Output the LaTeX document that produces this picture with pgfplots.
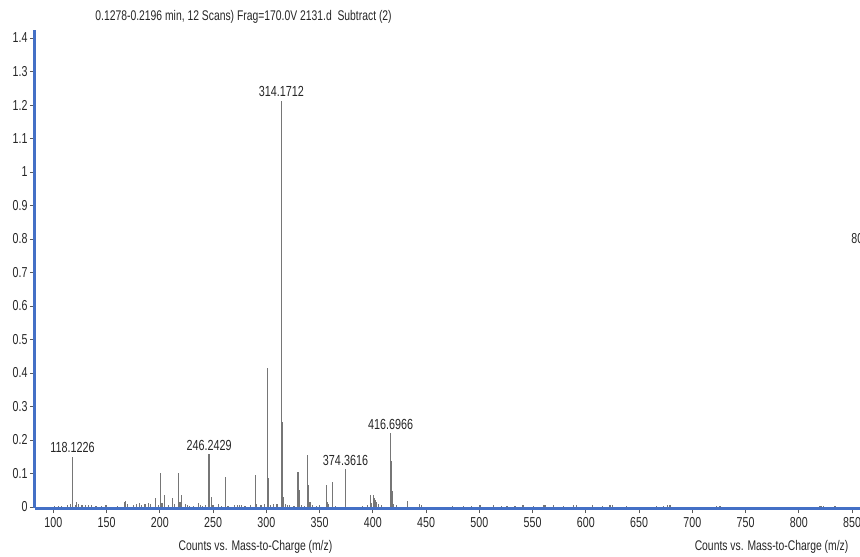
\documentclass[border=0pt]{standalone}
\usepackage{fontspec}
\setmainfont{Liberation Sans}[FakeStretch=0.74]
\usepackage{pgfplots}
\pgfplotsset{compat=1.18}
\usepackage{pgfplotstable}

\definecolor{axisblue}{RGB}{68,112,198}
\definecolor{peakgray}{RGB}{118,118,118}

% minor peaks of the spectrum (m/z, counts)
\pgfplotstableread{
mz     cnt
101.0  0.004
104.5  0.004
108.0  0.003
113.5  0.006
116.0  0.008
120.5  0.006
122.0  0.016
124.0  0.010
127.0  0.007
130.0  0.006
133.0  0.005
136.0  0.006
140.0  0.004
145.0  0.003
149.0  0.007
150.0  0.005
160.0  0.003
166.5  0.016
168.0  0.018
169.5  0.010
175.0  0.006
178.0  0.008
181.0  0.012
183.0  0.007
186.0  0.009
189.0  0.013
191.0  0.008
196.0  0.026
199.0  0.006
201.0  0.100
202.0  0.012
204.5  0.036
208.0  0.007
212.0  0.026
214.0  0.009
217.5  0.100
219.0  0.015
220.5  0.036
224.0  0.008
226.0  0.006
228.0  0.004
232.0  0.004
236.0  0.013
238.0  0.006
240.0  0.004
243.0  0.005
247.0  0.036
248.7  0.030
250.0  0.006
255.0  0.009
258.0  0.004
261.5  0.090
264.0  0.004
270.0  0.005
273.0  0.006
275.0  0.006
277.0  0.005
280.0  0.004
285.0  0.006
289.8  0.095
291.0  0.008
295.0  0.005
298.0  0.008
301.0  0.414
302.0  0.088
304.0  0.007
307.0  0.008
310.0  0.009
315.2  0.255
316.2  0.030
318.0  0.010
320.0  0.006
322.0  0.006
326.0  0.004
329.7  0.105
330.7  0.052
333.0  0.005
336.0  0.004
338.8  0.155
339.8  0.065
341.0  0.015
343.0  0.005
347.0  0.004
350.0  0.006
356.3  0.066
357.3  0.014
358.5  0.010
362.3  0.075
365.0  0.004
390.0  0.004
395.0  0.005
397.5  0.036
399.0  0.012
400.5  0.035
401.5  0.028
402.5  0.020
403.5  0.014
405.0  0.010
408.0  0.006
417.4  0.138
418.2  0.048
419.5  0.010
422.0  0.007
432.5  0.018
444.0  0.008
446.0  0.005
475.0  0.004
485.0  0.003
493.0  0.004
500.6  0.005
513.0  0.005
521.0  0.004
526.0  0.004
533.5  0.004
541.0  0.005
550.7  0.004
560.0  0.006
561.7  0.006
569.5  0.005
578.9  0.004
588.3  0.005
591.4  0.005
606.0  0.005
616.0  0.004
622.7  0.005
625.0  0.005
638.0  0.004
666.6  0.004
672.8  0.003
676.5  0.005
679.0  0.005
722.9  0.004
726.0  0.004
819.9  0.004
821.5  0.004
823.0  0.004
834.0  0.004
}\minorpeaks

% labelled peaks
\pgfplotstableread{
mz        cnt    lbl
118.1226  0.150  118.1226
246.2429  0.157  246.2429
314.1712  1.213  314.1712
374.3616  0.112  374.3616
416.6966  0.220  416.6966
}\labelpeaks

\begin{document}
\begin{tikzpicture}
\path[use as bounding box] (-17.5pt,-24pt) rectangle (412.5pt,254pt);
\clip (-17.5pt,-24pt) rectangle (412.5pt,254pt);
\begin{axis}[
  at={(0,0)}, anchor=south west,
  scale only axis, width=424.5pt, height=239pt,
  xmin=82.8, xmax=880, ymin=-0.003, ymax=1.424,
  axis x line*=bottom, axis y line*=left,
  axis line style={axisblue, line width=1.5pt},
  xtick={100,150,...,850},
  ytick={0,0.1,...,1.4},
  minor tick num=0,
  tick align=outside,
  major tick length=2.5pt,
  tick style={gray!70!black, line width=0.4pt},
  /pgf/number format/assume math mode=true,
  tick label style={font=\fontsize{7.2}{8}\selectfont, text=black!85},
  yticklabel style={xshift=2.3pt},
  xticklabel style={yshift=1.3pt},
  clip=false,
]
\addplot[ycomb, peakgray, line width=0.6pt, mark=none] table[x=mz, y=cnt] {\minorpeaks};
\addplot[ycomb, peakgray, line width=0.6pt, mark=none,
  nodes near coords, point meta=explicit symbolic,
  every node near coord/.style={font=\fontsize{7.3}{8}\selectfont, text=black!85, inner sep=1.6pt, anchor=south}]
  table[x=mz, y=cnt, meta=lbl] {\labelpeaks};
\end{axis}
\node[anchor=west, inner sep=0pt, font=\fontsize{7}{8}\selectfont, text=black!85] at (30pt,245.5pt) {0.1278-0.2196 min, 12 Scans) Frag=170.0V 2131.d\ \ Subtract (2)};
\node[font=\fontsize{7}{8}\selectfont, text=black!85] at (110.25pt,-19.5pt) {Counts vs. Mass-to-Charge (m/z)};
\node[font=\fontsize{7}{8}\selectfont, text=black!85] at (368.25pt,-19.5pt) {Counts vs. Mass-to-Charge (m/z)};
\node[anchor=west, font=\fontsize{7.2}{8}\selectfont, text=black!85, inner sep=0pt] at (408pt,134.75pt) {806.5};
\end{tikzpicture}
\end{document}
